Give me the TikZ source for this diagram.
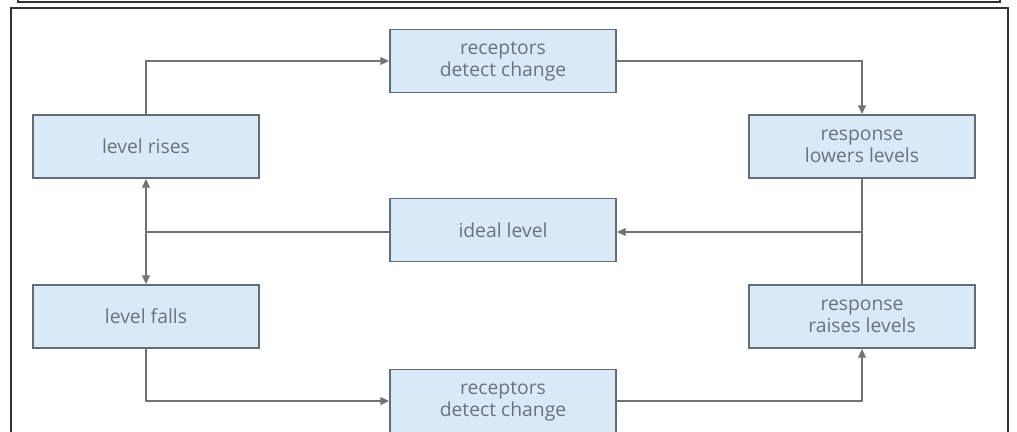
\documentclass[tikz,border=0pt]{standalone}
\usepackage{fontspec}
\setmainfont{Open Sans}
\definecolor{BoxBlue}{RGB}{218,233,248}
\definecolor{BoxEdge}{RGB}{100,108,118}
\definecolor{TextGrey}{RGB}{105,115,125}
\definecolor{LineGrey}{RGB}{115,115,115}
\usetikzlibrary{arrows.meta}

\begin{document}
\begin{tikzpicture}[x=0.02cm,y=-0.02cm,
  stage/.style={draw=BoxEdge,line width=1.1pt,fill=BoxBlue,minimum width=4.52cm,
    minimum height=1.26cm,inner sep=0pt,align=center,text=TextGrey,
    font=\fontsize{11}{12.5}\selectfont},
  link/.style={draw=LineGrey,line width=0.8pt},
  flow/.style={link,-{Triangle[length=5pt,width=4.5pt]}}]
\useasboundingbox (0,0) rectangle (1017,432);
% frames
\draw[line width=1.2pt,draw=black!80] (18,-20) -- (18,2) -- (1000,2) -- (1000,-20);
\draw[line width=1.2pt,draw=black!80] (11,450) -- (11,8) -- (1008,8) -- (1008,450);
% stages
\node[stage] (rises) at (146,146.5) {level rises};
\node[stage] (falls) at (146,316.5) {level falls};
\node[stage] (topdetect) at (503,61) {receptors\\detect change};
\node[stage] (ideal) at (503,230) {ideal level};
\node[stage] (botdetect) at (503,401) {receptors\\detect change};
\node[stage] (lowers) at (862,146.5) {response\\lowers levels};
\node[stage] (raises) at (862,316.5) {response\\raises levels};
% connectors
\coordinate (rjoin) at (lowers.south |- 0,232);
\coordinate (ljoin) at (rises.south |- 0,232);
\draw[flow] (rises.north) |- (topdetect.west);
\draw[flow] (topdetect.east) -| (lowers.north);
\draw[flow] (lowers.south) -- (rjoin) -- (ideal.east |- rjoin);
\draw[link] (raises.north) -- (rjoin);
\draw[link] (ideal.west |- ljoin) -- (ljoin);
\draw[flow] (ljoin) -- (rises.south);
\draw[flow] (ljoin) -- (falls.north);
\draw[flow] (falls.south) |- (botdetect.west);
\draw[flow] (botdetect.east) -| (raises.south);
\end{tikzpicture}
\end{document}
